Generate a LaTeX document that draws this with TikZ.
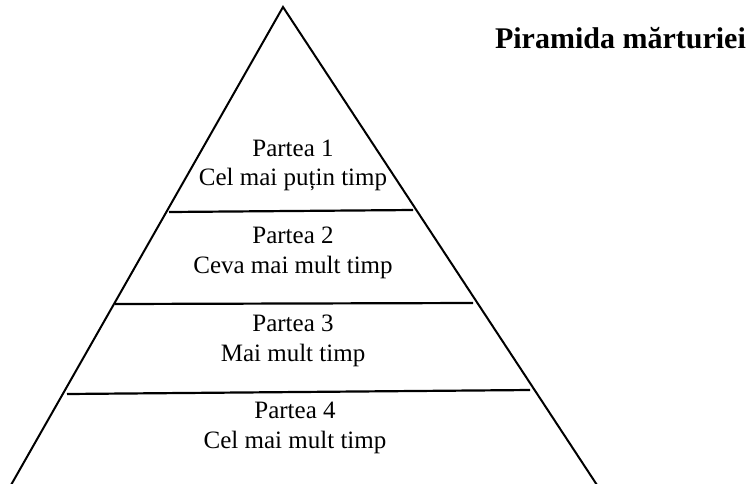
\documentclass[tikz,border=0pt]{standalone}
\usepackage{fontspec}
\setmainfont{Liberation Serif}
\tikzset{
  edge/.style={line width=2pt, line cap=round},
  divider/.style={line width=2.2pt},
  lbl/.style={anchor=base, inner sep=0pt, font=\fontsize{25}{30}\selectfont},
  ttl/.style={anchor=base east, inner sep=0pt, font=\fontsize{30}{36}\selectfont\bfseries}
}
\begin{document}
\begin{tikzpicture}[x=1pt,y=-1pt]
\useasboundingbox (0,0) rectangle (749,483);
\coordinate (apex) at (283,7);
\coordinate (bl) at (11,485);
\coordinate (br) at (597,485);
\draw[edge] (bl) -- (apex) -- (br);
\coordinate (a1) at (169,212); \coordinate (b1) at (413,210);
\coordinate (a2) at (115,304); \coordinate (b2) at (473,303);
\coordinate (a3) at (67,394);  \coordinate (b3) at (530,390);
\draw[divider] (a1) -- (b1);
\draw[divider] (a2) -- (b2);
\draw[divider] (a3) -- (b3);
\node[lbl] (p1a) at (293,156) {Partea 1};
\node[lbl] (p1b) at (293,185) {Cel mai puțin timp};
\node[lbl] (p2a) at (293,243) {Partea 2};
\node[lbl] (p2b) at (293,273) {Ceva mai mult timp};
\node[lbl] (p3a) at (293,331) {Partea 3};
\node[lbl] (p3b) at (293,361) {Mai mult timp};
\node[lbl] (p4a) at (295,418) {Partea 4};
\node[lbl] (p4b) at (295,448) {Cel mai mult timp};
\node[ttl] (title) at (746,48) {Piramida mărturiei};
\end{tikzpicture}
\end{document}
